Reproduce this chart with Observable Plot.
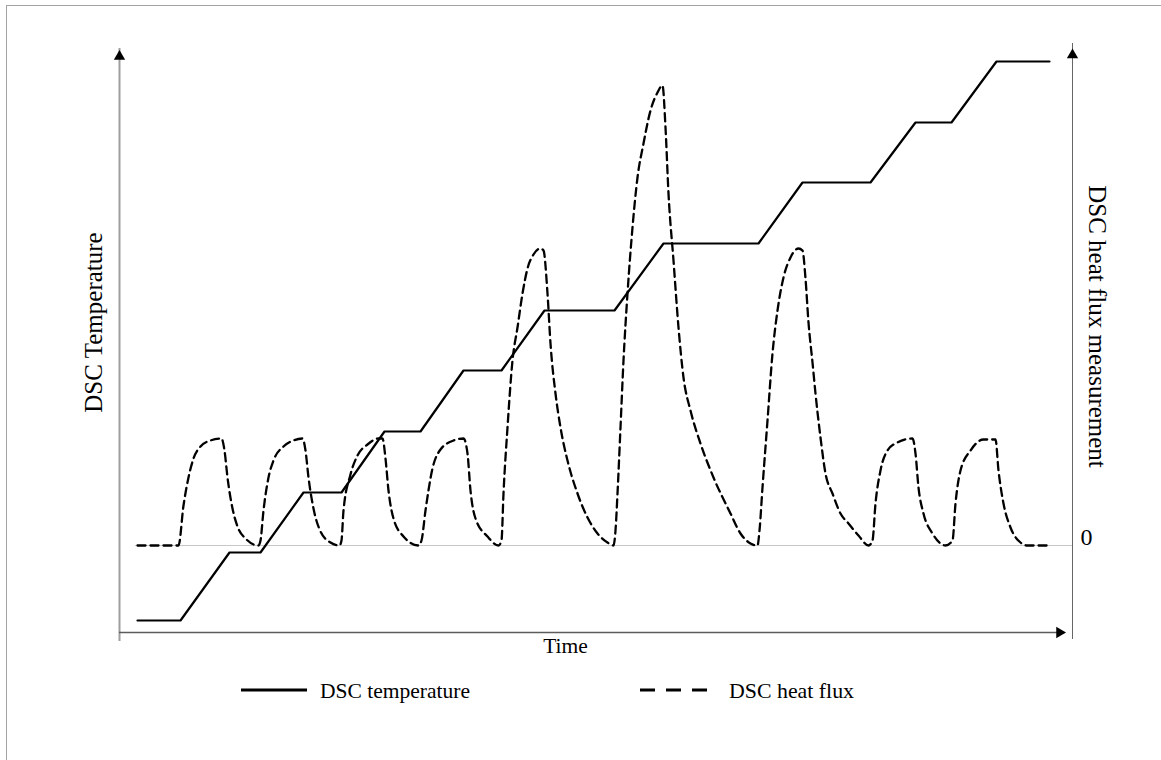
<!DOCTYPE html>
<html>
<head>
<meta charset="utf-8">
<script src="https://cdn.jsdelivr.net/npm/d3@7"></script>
<script src="https://cdn.jsdelivr.net/npm/@observablehq/plot@0.6"></script>
<style>
  html, body { margin: 0; padding: 0; background: #fff; }
  #page { position: relative; width: 1161px; height: 760px; overflow: hidden; }
  #frame { position: absolute; left: 6px; top: 5px; right: -2px; bottom: -2px;
           border-left: 1px solid #a3a3a3; border-top: 1px solid #a3a3a3; pointer-events: none; }
  #chart svg, #legend svg { display: block; }
</style>
</head>
<body>
<div id="page">
  <div id="chart"></div>
  <div id="legend"></div>
  <div id="frame"></div>
</div>
<script>
// ---- Data (time and values in arbitrary relative units) ----
const timeDomain = [0, 953];
const yDomain = [-87, 497];
const zeroLineStart = 16;

// DSC temperature (stepwise heating program)
const tempTime  = [18, 61, 110, 141, 184, 222, 265, 301, 344, 382, 425, 495, 544, 639, 683, 751, 796, 832, 877, 930];
const tempValue = [-75, -75, -7, -7, 53, 53, 114, 114, 175, 175, 235, 235, 302, 302, 363, 363, 423, 423, 484, 484];

// DSC heat flux (relative to zero baseline)
const fluxTime = [
  18, 59,
  64, 69, 74, 81, 91, 102, 105, 108, 113, 118, 126, 139,
  141, 144, 149, 154, 164, 174, 183, 186, 189, 194, 201, 211, 220,
  222, 224, 231, 238, 248, 259, 263, 266, 269, 274, 284, 299,
  302, 306, 313, 321, 334, 344, 348, 351, 356, 368, 379,
  382, 384, 388, 393, 398, 403, 408, 414, 421, 424, 428, 431, 436, 441, 448, 458, 468, 478, 488, 494,
  496, 498, 501, 504, 508, 513, 518, 524, 531, 538, 543, 546, 549, 554, 559, 564, 571, 581, 594, 611, 621, 631, 638,
  640, 643, 648, 653, 658, 664, 671, 679, 683, 686, 689, 693, 696, 701, 706, 713, 721, 729, 739, 749,
  753, 756, 761, 768, 778, 793, 796, 799, 804, 813, 826,
  833, 836, 841, 851, 864, 876, 879, 884, 891, 901, 908, 929
];
const fluxValue = [
  0, 0,
  40, 68, 87, 99, 105, 107, 95, 68, 37, 19, 7, 0,
  5, 35, 68, 85, 99, 105, 107, 95, 68, 37, 14, 3, 0,
  5, 35, 71, 90, 101, 107, 107, 87, 55, 27, 9, 0,
  5, 35, 77, 96, 105, 107, 92, 55, 27, 9, 0,
  5, 52, 118, 185, 218, 252, 277, 291, 297, 295, 252, 202, 152, 118, 85, 52, 28, 12, 3, 0,
  15, 52, 118, 185, 252, 318, 368, 402, 435, 453, 460, 418, 352, 285, 218, 168, 135, 102, 68, 32, 12, 2, 0,
  15, 58, 125, 192, 235, 268, 288, 297, 295, 267, 223, 183, 152, 108, 72, 52, 32, 22, 10, 0,
  5, 42, 75, 95, 103, 107, 92, 58, 32, 12, 0,
  5, 42, 75, 95, 106, 106, 75, 42, 18, 3, 0, 0
];

const labels = {
  x: "Time",
  yLeft: "DSC Temperature",
  yRight: "DSC heat flux measurement",
  zero: "0",
  legendTemp: "DSC temperature",
  legendFlux: "DSC heat flux"
};

const tempData = tempTime.map((t, i) => ({t, v: tempValue[i]}));
const fluxData = fluxTime.map((t, i) => ({t, v: fluxValue[i]}));

const serif = "'Liberation Serif', 'Times New Roman', Times, serif";

const plot = Plot.plot({
  width: 1161,
  height: 672,
  marginLeft: 119,
  marginRight: 89,
  marginTop: 48,
  marginBottom: 40,
  x: {domain: timeDomain, axis: null},
  y: {domain: yDomain, axis: null},
  style: {fontFamily: serif, background: "transparent", color: "black"},
  marks: [
    // zero reference line
    Plot.ruleY([0], {x1: zeroLineStart, x2: timeDomain[1], stroke: "#c8c8c8", strokeWidth: 1}),
    // left axis (temperature)
    Plot.ruleX([timeDomain[0]], {y1: yDomain[0], y2: yDomain[1], insetTop: 9, stroke: "#9e9e9e", strokeWidth: 2}),
    // right axis (heat flux)
    Plot.ruleX([timeDomain[1]], {y1: yDomain[0], y2: yDomain[1], insetTop: 7, insetBottom: 5, stroke: "#666", strokeWidth: 1}),
    // bottom axis (time)
    Plot.ruleY([yDomain[0]], {x1: timeDomain[0], x2: timeDomain[1], insetRight: 14, stroke: "#5c5c5c", strokeWidth: 1.5}),
    // arrowheads
    Plot.dot([0], {x: () => timeDomain[0], y: () => yDomain[1], symbol: "triangle", r: 4.2, fill: "black", stroke: null, dy: 8}),
    Plot.dot([0], {x: () => timeDomain[1], y: () => yDomain[1], symbol: "triangle", r: 4.2, fill: "black", stroke: null, dy: 6.5}),
    Plot.dot([0], {x: () => timeDomain[1], y: () => yDomain[0], symbol: "triangle", r: 4.2, fill: "black", stroke: null, rotate: 90, dx: -13}),
    // series
    Plot.line(tempData, {x: "t", y: "v", stroke: "black", strokeWidth: 2.2, curve: "linear"}),
    Plot.line(fluxData, {x: "t", y: "v", stroke: "black", strokeWidth: 2.3, strokeDasharray: "8,5", curve: "monotone-x"}),
    // labels
    Plot.text([labels.yLeft], {frameAnchor: "left", rotate: -90, dx: -26, dy: -18, fontSize: 25, fill: "black", textAnchor: "middle"}),
    Plot.text([labels.yRight], {frameAnchor: "right", rotate: 90, dx: 24, dy: -14, fontSize: 25, fill: "black", textAnchor: "middle"}),
    Plot.text([labels.zero], {x: () => timeDomain[1], y: () => 0, dx: 14, dy: -8, fontSize: 24, fill: "black", textAnchor: "middle"}),
    Plot.text([labels.x], {frameAnchor: "bottom-left", dx: 446, dy: 20, fontSize: 21.5, fill: "black", textAnchor: "middle"})
  ]
});
document.getElementById("chart").appendChild(plot);

// ---- Legend (below the chart) ----
const legend = d3.create("svg").attr("width", 1161).attr("height", 60)
  .style("font-family", serif);
const items = [
  {label: labels.legendTemp, dash: null, x0: 241, x1: 307, tx: 320, tl: 150},
  {label: labels.legendFlux, dash: "15,11", x0: 640, x1: 707, tx: 729, tl: 125}
];
const g = legend.selectAll("g").data(items).join("g");
g.append("line")
  .attr("x1", d => d.x0).attr("x2", d => d.x1)
  .attr("y1", 18).attr("y2", 18)
  .attr("stroke", "black").attr("stroke-width", 3)
  .attr("stroke-dasharray", d => d.dash);
g.append("text")
  .attr("x", d => d.tx).attr("y", 26)
  .attr("font-size", 22)
  .attr("textLength", d => d.tl)
  .attr("lengthAdjust", "spacingAndGlyphs")
  .attr("fill", "black")
  .text(d => d.label);
document.getElementById("legend").appendChild(legend.node());
</script>
</body>
</html>
